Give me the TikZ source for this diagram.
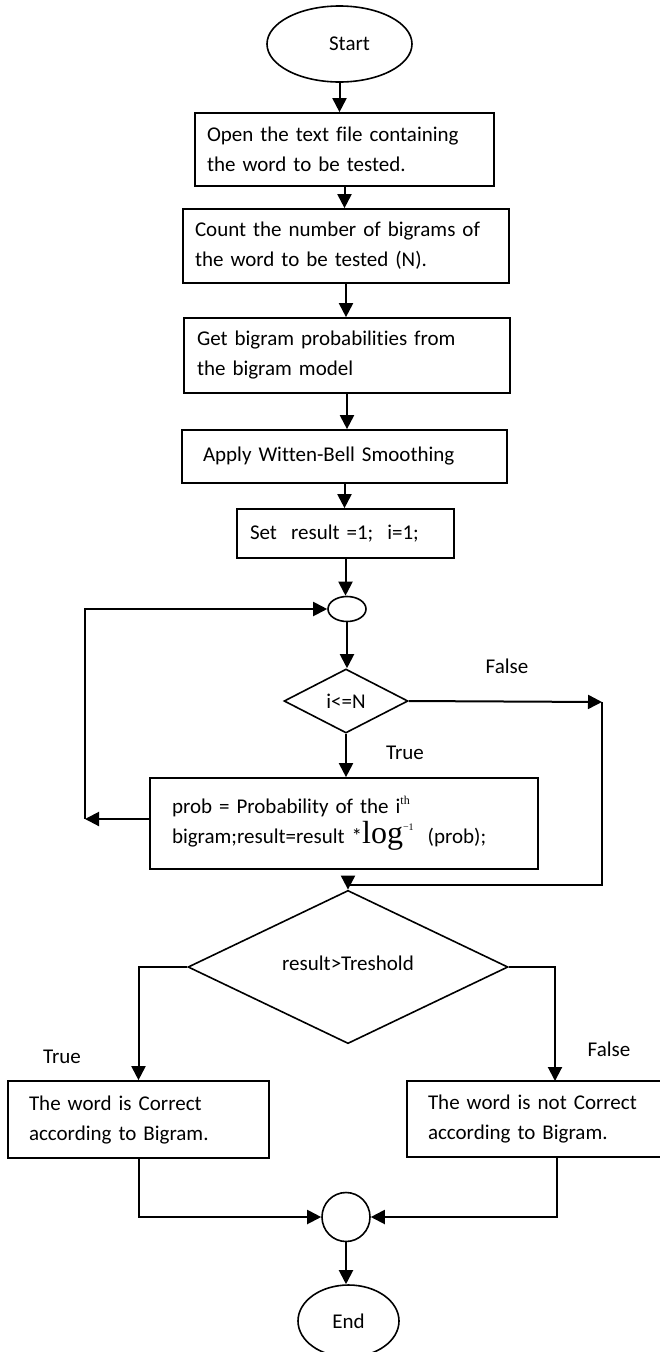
\documentclass[tikz,border=0pt]{standalone}
\usepackage{fontspec}
\setmainfont{Carlito}[Ligatures=NoCommon]
\newfontfamily\timesf{Liberation Serif}
\usetikzlibrary{shapes.geometric,arrows.meta,calc}
\begin{document}
\begin{tikzpicture}[x=1pt,y=-1pt,
  every node/.style={font=\fontsize{21pt}{30pt}\selectfont},
  box/.style={draw, line width=1.7pt, rectangle, inner ysep=0pt, align=left},
  oval/.style={draw, line width=1.6pt, ellipse, inner sep=0pt},
  dia/.style={draw, line width=1.6pt, diamond, inner sep=0pt},
  arr/.style={line width=2pt, -{Triangle[length=14pt,width=14pt]}},
  lbl/.style={inner sep=0pt}]
\useasboundingbox (0,0) rectangle (659,1352);

% nodes
\node[oval, minimum width=145pt, minimum height=76pt] (start) at (339.5,44) {\hspace*{20pt}Start};
\node[box, minimum width=299pt, minimum height=73pt, inner xsep=12pt, text width=275pt] (b1) at (344.5,149.5)
  {Open the text file containing\\the word to be tested.};
\node[box, minimum width=326pt, minimum height=74pt, inner xsep=12pt, text width=302pt] (b2) at (346,246)
  {Count the number of bigrams of\\the word to be tested (N).};
\node[box, minimum width=326pt, minimum height=75pt, inner xsep=13pt, text width=300pt] (b3) at (347,355.5)
  {Get bigram probabilities from\\the bigram model};
\node[box, minimum width=325pt, minimum height=53pt, inner xsep=21pt, text width=283pt] (b4) at (344.5,456.5)
  {Apply Witten-Bell Smoothing};
\node[box, minimum width=217pt, minimum height=49pt, inner xsep=13pt, text width=191pt] (b5) at (345.5,533.5)
  {Set\ \ result =1;\ \ i=1;};
\node[oval, minimum width=38pt, minimum height=25pt] (j1) at (347,609) {};
\node[dia, minimum width=124pt, minimum height=64pt] (d1) at (346,701) {i<=N};
\node[box, minimum width=388pt, minimum height=91pt, inner xsep=22pt, text width=344pt] (b6) at (344,823.5)
  {prob = Probability of the i\raisebox{9pt}{\timesf\fontsize{12pt}{12pt}\selectfont th}\\
   bigram;result=result *{\timesf\fontsize{32pt}{30pt}\selectfont log}\raisebox{13pt}{\timesf\fontsize{10pt}{10pt}\selectfont \char"2212 1}\ \ (prob);};
\node[dia, minimum width=320pt, minimum height=109pt] (d2) at (348,967) {\raisebox{7pt}{result>Treshold}};
\node[box, minimum width=261pt, minimum height=77pt, inner xsep=21pt, text width=219pt] (b7) at (138.5,1119.5)
  {The word is Correct\\according to Bigram.};
\node[box, minimum width=258pt, minimum height=76pt, inner xsep=21pt, text width=216pt] (b8) at (536,1119)
  {The word is not Correct\\according to Bigram.};
\node[oval, minimum width=48pt, minimum height=49pt] (j2) at (346,1217) {};
\node[oval, minimum width=101pt, minimum height=72pt] (end) at (348.5,1321) {End};

% labels
\node[lbl] (lF1) at (507,666) {False};
\node[lbl] (lT1) at (405,753) {True};
\node[lbl] (lT2) at (62,1057) {True};
\node[lbl] (lF2) at (609,1049) {False};

% helper coordinates
\coordinate (cL) at (85,819);
\coordinate (cR1) at (602,702);
\coordinate (cR2) at (602,885);
\coordinate (cB8) at (555,1081);
\coordinate (c8) at (557,1157);

% connectors
\draw[arr] (start.south) -- (start.south |- b1.north);
\draw[arr] (b1.south) -- (b1.south |- b2.north);
\draw[arr] (b2.south) -- (b2.south |- b3.north);
\draw[arr] (b3.south) -- (b3.south |- b4.north);
\draw[arr] (b4.south) -- (b4.south |- b5.north);
\draw[arr] (b5.south) -- (b5.south |- j1.north);
\draw[arr] (j1.south) -- (j1.south |- d1.north);
\draw[arr] (d1.south) -- (d1.south |- b6.north);
\draw[arr] (b6.west |- cL) -- (cL);
\draw[arr] (cL) -- (cL |- j1.west) -- (j1.west);
\draw[arr] (d1.east) -- (cR1);
\draw[arr] (cR1) -- (cR2) -| (d2.north);
\draw[arr] (d2.west) -| (b7.north);
\draw[arr] (d2.east) -| (cB8);
\draw[arr] (b7.south) |- (j2.west);
\draw[arr] (c8) |- (j2.east);
\draw[arr] (j2.south) -- (j2.south |- end.north);
\end{tikzpicture}
\end{document}
